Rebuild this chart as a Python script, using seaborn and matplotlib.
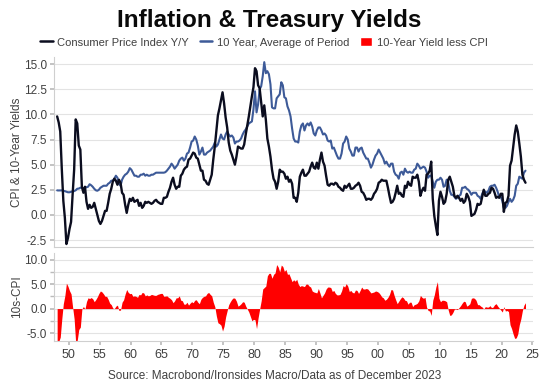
import numpy as np
import pandas as pd
import matplotlib
matplotlib.use("Agg")
import matplotlib.pyplot as plt
from matplotlib.patches import Patch
from matplotlib.lines import Line2D
import seaborn as sns

# quarterly readings, 1948Q1 .. 2023Q4
start_year = 1948
cpi_yoy = [
    9.8, 9.2, 8.3, 4.6,      # 48
    1.4, -0.3, -2.9, -2.3,   # 49
    -1.4, -0.7, 2.0, 4.5,    # 50
    9.5, 9.1, 6.9, 6.5,      # 51
    2.8, 2.2, 2.8, 1.3,      # 52
    0.6, 1.0, 0.7, 0.8,      # 53
    1.2, 0.6, 0.0, -0.6,     # 54
    -0.9, -0.6, -0.1, 0.4,   # 55
    0.4, 1.2, 2.1, 2.6,      # 56
    3.3, 3.6, 3.4, 3.0,      # 57
    3.5, 3.2, 2.2, 2.0,      # 58
    1.0, 0.2, 1.0, 1.6,      # 59
    1.4, 1.7, 1.3, 1.4,      # 60
    1.5, 0.9, 1.2, 0.7,      # 61
    0.9, 1.3, 1.2, 1.3,      # 62
    1.2, 1.1, 1.2, 1.4,      # 63
    1.5, 1.3, 1.2, 1.1,      # 64
    1.1, 1.7, 1.7, 1.8,      # 65
    2.3, 2.7, 3.3, 3.7,      # 66
    3.0, 2.6, 2.8, 2.8,      # 67
    3.9, 4.1, 4.5, 4.7,      # 68
    4.8, 5.5, 5.6, 5.9,      # 69
    6.2, 6.1, 5.7, 5.6,      # 70
    5.0, 4.4, 4.4, 3.5,      # 71
    3.4, 3.1, 3.0, 3.5,      # 72
    4.0, 5.5, 6.8, 8.3,      # 73
    9.9, 10.6, 11.4, 12.2,   # 74
    11.1, 9.7, 8.7, 7.2,     # 75
    6.4, 6.0, 5.5, 5.0,      # 76
    5.8, 6.8, 6.7, 6.6,      # 77
    6.6, 7.0, 8.0, 8.9,      # 78
    9.8, 10.8, 11.8, 12.7,   # 79
    14.6, 14.3, 12.9, 12.6,  # 80
    11.2, 9.8, 10.9, 9.5,    # 81
    7.6, 6.8, 5.8, 4.5,      # 82
    3.6, 3.3, 2.6, 3.3,      # 83
    4.5, 4.3, 4.3, 4.1,      # 84
    3.6, 3.8, 3.3, 3.5,      # 85
    3.1, 1.7, 1.7, 1.3,      # 86
    2.2, 3.8, 4.2, 4.5,      # 87
    3.9, 3.9, 4.1, 4.3,      # 88
    4.8, 5.2, 4.7, 4.6,      # 89
    5.2, 4.6, 5.5, 6.2,      # 90
    5.3, 4.9, 3.9, 3.0,      # 91
    2.9, 3.1, 3.1, 3.0,      # 92
    3.2, 3.1, 2.8, 2.7,      # 93
    2.5, 2.4, 2.9, 2.7,      # 94
    2.9, 3.1, 2.6, 2.6,      # 95
    2.7, 2.9, 3.0, 3.2,      # 96
    2.9, 2.3, 2.2, 1.9,      # 97
    1.5, 1.6, 1.6, 1.5,      # 98
    1.7, 2.1, 2.3, 2.6,      # 99
    3.2, 3.3, 3.5, 3.4,      # 00
    3.4, 3.4, 2.7, 1.9,      # 01
    1.2, 1.3, 1.6, 2.2,      # 02
    2.9, 2.1, 2.2, 1.9,      # 03
    1.8, 2.9, 2.7, 3.3,      # 04
    3.0, 2.9, 3.8, 3.7,      # 05
    3.7, 4.0, 3.3, 1.9,      # 06
    2.4, 2.7, 2.4, 4.0,      # 07
    4.1, 4.4, 5.3, 1.6,      # 08
    -0.1, -1.1, -2.0, 1.4,   # 09
    2.3, 1.8, 1.1, 1.3,      # 10
    2.1, 3.5, 3.8, 3.3,      # 11
    2.8, 1.9, 1.7, 1.9,      # 12
    1.7, 1.4, 1.6, 1.2,      # 13
    1.4, 2.1, 1.8, 1.3,      # 14
    -0.1, 0.0, 0.1, 0.5,     # 15
    1.1, 1.0, 1.1, 1.8,      # 16
    2.5, 1.9, 1.9, 2.1,      # 17
    2.2, 2.7, 2.6, 2.2,      # 18
    1.7, 1.8, 1.7, 2.1,      # 19
    2.1, 0.3, 1.2, 1.3,      # 20
    1.9, 4.9, 5.4, 6.7,      # 21
    8.0, 8.9, 8.3, 7.1,      # 22
    5.8, 4.0, 3.5, 3.2,      # 23
]
ten_year = [
    2.44, 2.43, 2.44, 2.44,  # 48
    2.40, 2.36, 2.30, 2.25,  # 49
    2.25, 2.30, 2.33, 2.37,  # 50
    2.45, 2.60, 2.62, 2.70,  # 51
    2.72, 2.62, 2.70, 2.75,  # 52
    2.80, 3.05, 2.95, 2.80,  # 53
    2.60, 2.45, 2.40, 2.50,  # 54
    2.70, 2.80, 2.90, 2.90,  # 55
    2.90, 3.10, 3.20, 3.40,  # 56
    3.40, 3.60, 3.90, 3.70,  # 57
    3.10, 2.90, 3.50, 3.80,  # 58
    4.00, 4.10, 4.30, 4.65,  # 59
    4.50, 4.20, 3.90, 3.90,  # 60
    3.80, 3.80, 4.00, 4.00,  # 61
    4.10, 3.90, 4.00, 3.90,  # 62
    3.90, 4.00, 4.00, 4.10,  # 63
    4.20, 4.20, 4.20, 4.20,  # 64
    4.20, 4.20, 4.25, 4.40,  # 65
    4.60, 4.80, 5.10, 4.90,  # 66
    4.60, 4.80, 5.00, 5.40,  # 67
    5.60, 5.70, 5.40, 5.60,  # 68
    6.10, 6.20, 6.70, 7.30,  # 69
    7.40, 7.80, 7.50, 6.90,  # 70
    6.00, 6.30, 6.70, 6.00,  # 71
    6.00, 6.20, 6.30, 6.40,  # 72
    6.60, 6.80, 7.20, 6.80,  # 73
    7.00, 7.50, 8.00, 7.60,  # 74
    7.50, 8.00, 8.30, 8.00,  # 75
    7.80, 7.90, 7.70, 7.10,  # 76
    7.30, 7.30, 7.40, 7.60,  # 77
    8.00, 8.30, 8.50, 8.80,  # 78
    9.10, 9.20, 9.30, 10.50, # 79
    12.30, 10.20, 11.00, 12.50,  # 80
    12.80, 13.80, 15.20, 14.10,  # 81
    14.30, 14.00, 13.00, 10.70,  # 82
    10.60, 10.60, 11.60, 11.80,  # 83
    12.00, 13.20, 12.90, 11.70,  # 84
    11.60, 10.80, 10.40, 9.80,   # 85
    8.60, 7.60, 7.30, 7.30,  # 86
    7.20, 8.30, 8.90, 9.10,  # 87
    8.40, 8.90, 9.10, 8.90,  # 88
    9.20, 8.80, 8.10, 7.90,  # 89
    8.40, 8.70, 8.70, 8.40,  # 90
    8.00, 8.10, 7.90, 7.40,  # 91
    7.30, 7.40, 6.60, 6.70,  # 92
    6.30, 5.90, 5.60, 5.60,  # 93
    6.10, 7.10, 7.30, 7.80,  # 94
    7.50, 6.60, 6.30, 5.90,  # 95
    5.90, 6.70, 6.70, 6.30,  # 96
    6.60, 6.70, 6.20, 5.90,  # 97
    5.60, 5.60, 5.20, 4.70,  # 98
    5.00, 5.50, 5.90, 6.10,  # 99
    6.50, 6.20, 5.90, 5.60,  # 00
    5.10, 5.30, 5.00, 4.80,  # 01
    5.10, 5.10, 4.30, 4.00,  # 02
    3.90, 3.60, 4.20, 4.30,  # 03
    4.00, 4.60, 4.30, 4.20,  # 04
    4.30, 4.20, 4.20, 4.50,  # 05
    4.60, 5.10, 4.90, 4.60,  # 06
    4.70, 4.80, 4.70, 4.30,  # 07
    3.70, 3.90, 3.90, 3.30,  # 08
    2.70, 3.30, 3.50, 3.50,  # 09
    3.70, 3.50, 2.80, 2.90,  # 10
    3.50, 3.20, 2.40, 2.00,  # 11
    2.00, 1.80, 1.60, 1.70,  # 12
    1.90, 2.00, 2.70, 2.70,  # 13
    2.80, 2.60, 2.50, 2.30,  # 14
    2.00, 2.20, 2.20, 2.20,  # 15
    1.90, 1.80, 1.60, 2.10,  # 16
    2.40, 2.30, 2.20, 2.40,  # 17
    2.80, 2.90, 2.90, 3.00,  # 18
    2.70, 2.30, 1.80, 1.80,  # 19
    1.40, 0.70, 0.70, 0.90,  # 20
    1.30, 1.60, 1.30, 1.50,  # 21
    1.90, 2.90, 3.10, 3.80,  # 22
    3.70, 3.60, 4.20, 4.40,  # 23
]
year_ticks = list(range(1950, 2030, 5))
tick_labels = [f"{y % 100:02d}" for y in year_ticks]

df = pd.DataFrame({"cpi": cpi_yoy, "tsy": ten_year})
df["year"] = start_year + np.arange(len(df)) * 0.25 + 0.125
df["spread"] = df["tsy"] - df["cpi"]

c_cpi = "#0b0d1f"
c_tsy = "#3d5a98"
c_red = "#ff0000"
grid_c = "#e3e3e3"
txt_c = "#404040"

sns.set_theme(style="white")
plt.rcParams["font.family"] = ["Liberation Sans", "DejaVu Sans"]

fig = plt.figure(figsize=(5.39, 3.86), dpi=100)
ax1 = fig.add_axes([0.100, 0.360, 0.889, 0.492])
ax2 = fig.add_axes([0.100, 0.117, 0.889, 0.228])

sns.lineplot(data=df, x="year", y="tsy", color=c_tsy, lw=1.5, ax=ax1)
sns.lineplot(data=df, x="year", y="cpi", color=c_cpi, lw=1.7, ax=ax1)
ax2.fill_between(df["year"], 0, df["spread"], color=c_red, lw=0)

for ax in (ax1, ax2):
    ax.set_xlim(1947.6, 2025.1)
    ax.set_xlabel("")
    for s in ["top", "right"]:
        ax.spines[s].set_visible(False)
    for s in ["left", "bottom"]:
        ax.spines[s].set_color("#cfcfcf")
        ax.spines[s].set_linewidth(0.8)
    ax.yaxis.grid(True, which="both", color=grid_c, lw=0.8)
    ax.set_axisbelow(True)
    ax.tick_params(axis="y", which="both", left=True, length=3, color="#bbbbbb",
                   labelsize=8.5, labelcolor=txt_c, pad=2)
    ax.set_xticks(year_ticks)

ax1.set_ylim(-3.2, 15.7)
ax1.set_yticks(np.arange(-2.5, 15.1, 2.5))
ax1.set_yticklabels([f"{v:.1f}" for v in np.arange(-2.5, 15.1, 2.5)])
ax1.tick_params(axis="x", bottom=False, labelbottom=False)
ax1.set_ylabel("CPI & 10-Year Yields", fontsize=8.5, color=txt_c, labelpad=4)

ax2.set_ylim(-6.6, 11.4)
ax2.set_yticks([-5, 0, 5, 10])
ax2.set_yticklabels(["-5.0", "0.0", "5.0", "10.0"])
ax2.set_yticks([-2.5, 2.5, 7.5], minor=True)
ax2.set_xticklabels(tick_labels)
ax2.tick_params(axis="x", bottom=True, length=3, color="#bbbbbb", labelsize=9,
                labelcolor=txt_c, pad=3)
ax2.set_ylabel("10s-CPI", fontsize=8.5, color=txt_c, labelpad=4)
ax1.yaxis.set_label_coords(-0.065, 0.5)
ax2.yaxis.set_label_coords(-0.065, 0.5)

fig.text(0.50, 0.948, "Inflation & Treasury Yields", ha="center", va="center",
         fontsize=17.5, fontweight="bold", color="#0a0a0a")
handles = [Line2D([], [], color=c_cpi, lw=1.8),
           Line2D([], [], color=c_tsy, lw=1.8),
           Patch(facecolor=c_red)]
labels = ["Consumer Price Index Y/Y", "10 Year, Average of Period", "10-Year Yield less CPI"]
fig.legend(handles, labels, loc="center", bbox_to_anchor=(0.49, 0.890), ncol=3,
           frameon=False, fontsize=8, handlelength=1.1, handleheight=0.8,
           handletextpad=0.4, columnspacing=1.0, labelcolor=txt_c)
fig.text(0.51, 0.025, "Source: Macrobond/Ironsides Macro/Data as of December 2023",
         ha="center", va="center", fontsize=8.5, color=txt_c)

fig.savefig("out.png", dpi=100)
